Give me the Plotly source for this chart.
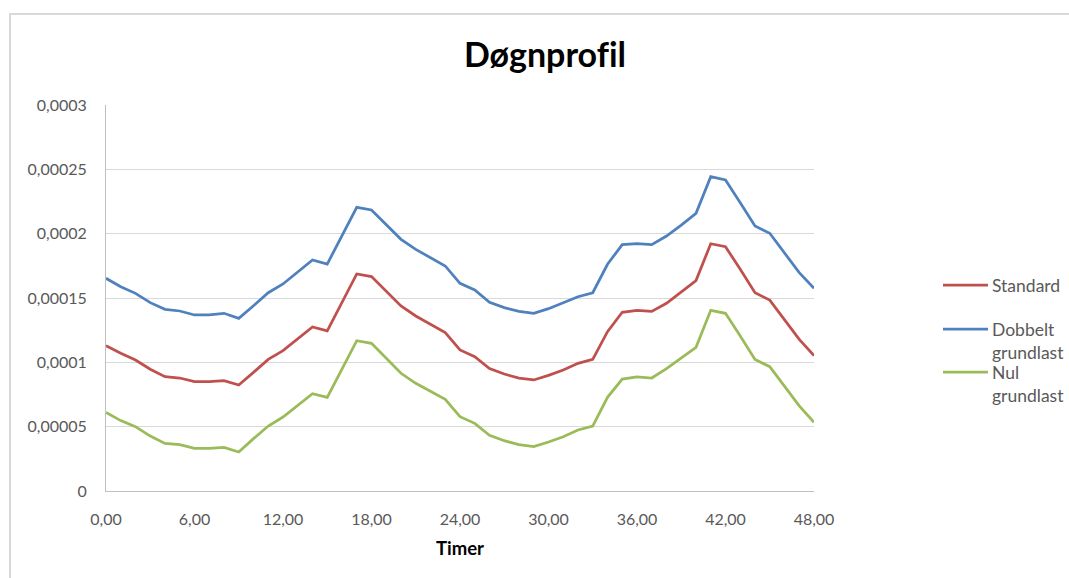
import plotly.graph_objects as go

# Hours over two days (hourly samples)
timer = list(range(0, 49))

# Load profile values, in units of 1e-5
dobbelt_grundlast = [
    16.53, 15.88, 15.36, 14.64, 14.12, 13.99, 13.68, 13.68, 13.81, 13.42,
    14.40, 15.41, 16.09, 16.99, 17.95, 17.64, 19.82, 22.05, 21.84, 20.67,
    19.56, 18.78, 18.16, 17.49, 16.14, 15.62, 14.66, 14.25, 13.96, 13.81,
    14.17, 14.64, 15.10, 15.41, 17.62, 19.15, 19.22, 19.15, 19.82, 20.67,
    21.58, 24.43, 24.17, 22.41, 20.60, 20.03, 18.47, 16.97, 15.75,
]
standard = [
    11.30, 10.70, 10.18, 9.46, 8.89, 8.78, 8.50, 8.50, 8.58, 8.24,
    9.22, 10.23, 10.91, 11.81, 12.75, 12.44, 14.64, 16.87, 16.66, 15.49,
    14.38, 13.60, 12.95, 12.31, 10.96, 10.44, 9.51, 9.09, 8.78, 8.63,
    8.99, 9.40, 9.92, 10.23, 12.38, 13.89, 14.04, 13.96, 14.59, 15.44,
    16.35, 19.22, 18.99, 17.23, 15.41, 14.84, 13.29, 11.79, 10.52,
]
nul_grundlast = [
    6.11, 5.47, 5.00, 4.27, 3.70, 3.60, 3.32, 3.32, 3.39, 3.03,
    4.07, 5.05, 5.75, 6.66, 7.56, 7.28, 9.46, 11.68, 11.48, 10.28,
    9.15, 8.37, 7.77, 7.12, 5.78, 5.26, 4.33, 3.91, 3.60, 3.45,
    3.81, 4.22, 4.74, 5.05, 7.28, 8.70, 8.86, 8.78, 9.51, 10.31,
    11.17, 14.04, 13.81, 12.05, 10.23, 9.66, 8.11, 6.61, 5.34,
]

series_names = ["Standard", "Dobbelt<br>grundlast", "Nul<br>grundlast"]
series_values = [standard, dobbelt_grundlast, nul_grundlast]
series_colors = ["#C0504D", "#4F81BD", "#9BBB59"]

y_tickvals = [0, 0.00005, 0.0001, 0.00015, 0.0002, 0.00025, 0.0003]
y_ticktext = ["0", "0,00005", "0,0001", "0,00015", "0,0002", "0,00025", "0,0003"]
x_tickvals = [0, 6, 12, 18, 24, 30, 36, 42, 48]
x_ticktext = ["0,00", "6,00", "12,00", "18,00", "24,00", "30,00", "36,00", "42,00", "48,00"]

FONT = "Lato, 'Open Sans', sans-serif"
W, H = 1069, 578
L, R, T, B = 106, 255, 105, 87
pw, ph = W - L - R, H - T - B


def px_x(px):
    return (px - L) / pw


def px_y(py):
    return (H - B - py) / ph


fig = go.Figure()
for name, vals, col in zip(series_names, series_values, series_colors):
    fig.add_trace(go.Scatter(
        x=timer, y=[v * 1e-5 for v in vals], mode="lines",
        name=name.replace("<br>", " "),
        line=dict(color=col, width=2.75),
        showlegend=False,
    ))

# Chart frame
fig.add_shape(type="rect", xref="paper", yref="paper",
              x0=px_x(10), x1=px_x(1080), y0=px_y(590), y1=px_y(14),
              line=dict(color="#D9D9D9", width=2), fillcolor="rgba(0,0,0,0)",
              layer="below")

# Legend drawn at the right of the plot
legend_rows = [285, 329, 372]
for name, col, yy in zip(series_names, series_colors, legend_rows):
    fig.add_shape(type="line", xref="paper", yref="paper",
                  x0=px_x(943), x1=px_x(988), y0=px_y(yy), y1=px_y(yy),
                  line=dict(color=col, width=2.75))
    fig.add_annotation(xref="paper", yref="paper", x=px_x(990), y=px_y(yy - 12),
                       text=name, showarrow=False, xanchor="left", yanchor="top",
                       align="left",
                       font=dict(family=FONT, size=17.5, color="#595959"))

fig.update_layout(
    width=W, height=H,
    margin=dict(l=L, r=R, t=T, b=B),
    paper_bgcolor="white", plot_bgcolor="white",
    font=dict(family=FONT, size=16, color="#595959"),
    title=dict(text="<b>Døgnprof\u200cil</b>", x=545 / W, xanchor="center",
               y=1 - 55 / H, yanchor="middle",
               font=dict(family=FONT, size=34, color="#000000")),
    xaxis=dict(
        range=[0, 48], tickvals=x_tickvals, ticktext=x_ticktext,
        showgrid=False, zeroline=False,
        showline=True, linecolor="#BFBFBF", linewidth=1,
        ticks="", ticklabelstandoff=14,
        tickfont=dict(family=FONT, size=16, color="#595959"),
        title=dict(text="<b>Timer</b>", standoff=14,
                   font=dict(family=FONT, size=18.5, color="#000000")),
    ),
    yaxis=dict(
        range=[0, 0.0003], tickvals=y_tickvals, ticktext=y_ticktext,
        showgrid=True, gridcolor="#D9D9D9", gridwidth=1,
        zeroline=False, showline=True, linecolor="#BFBFBF", linewidth=1,
        ticks="", ticklabelstandoff=15,
        tickfont=dict(family=FONT, size=16, color="#595959"),
    ),
)

fig.write_html("out.html")
